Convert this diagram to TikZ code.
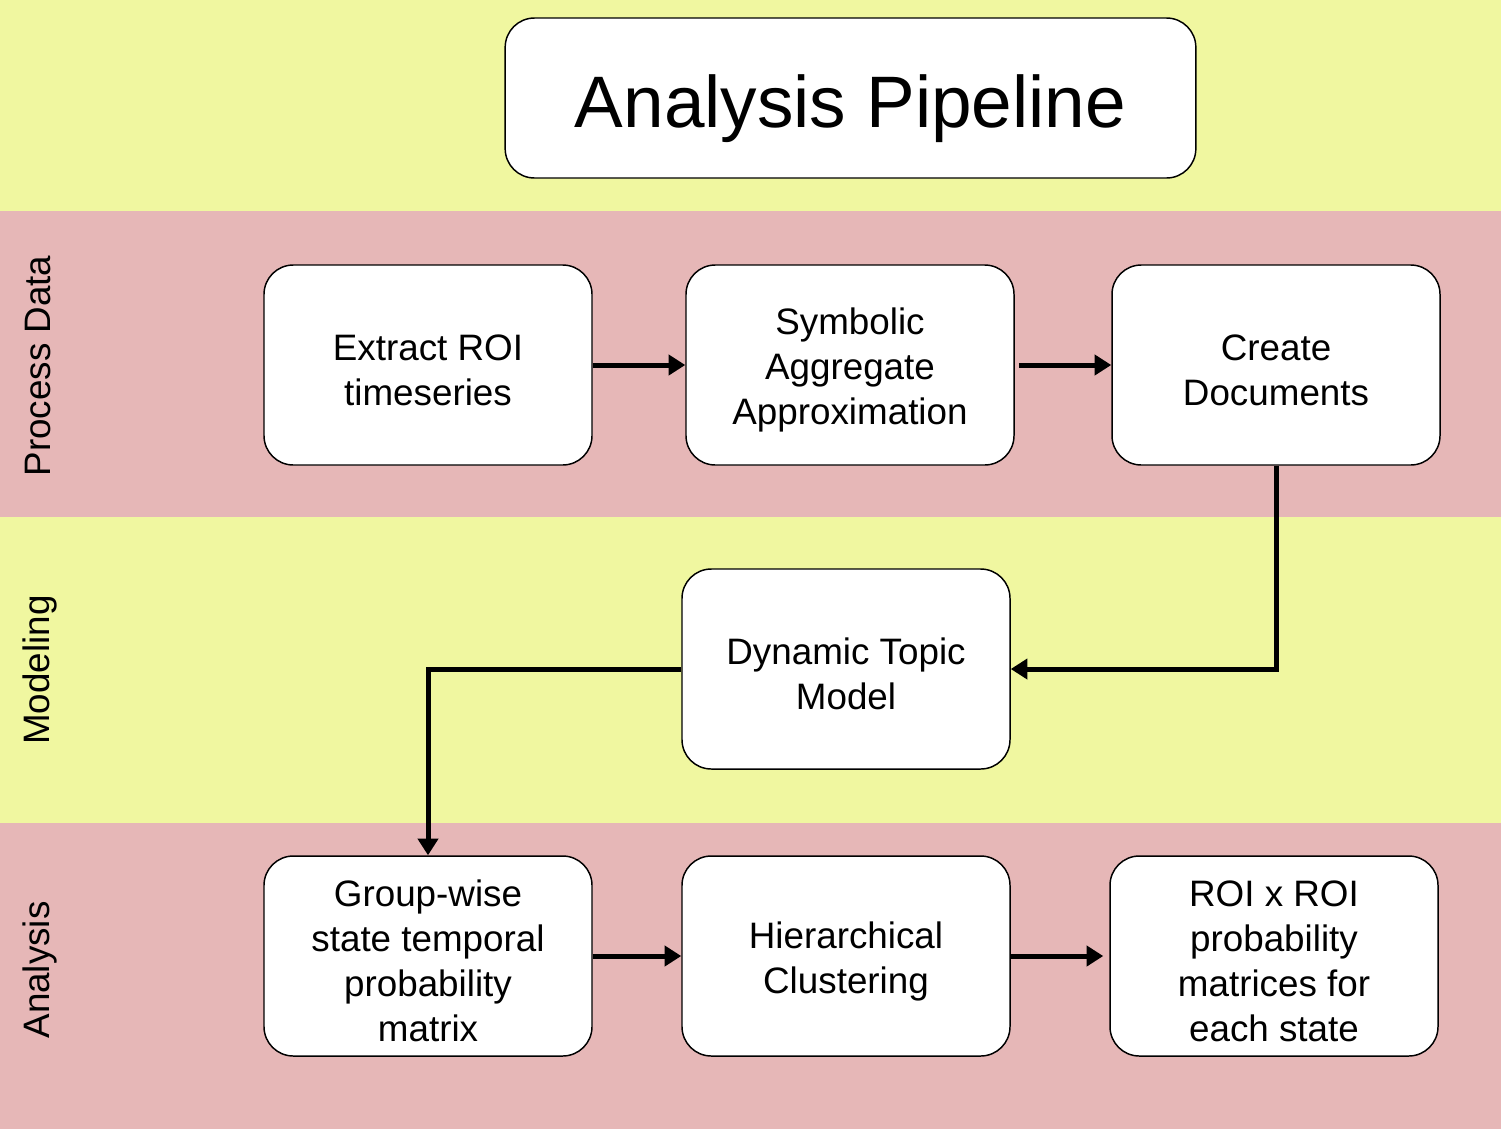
\documentclass[tikz,border=0pt]{standalone}
\usepackage{fontspec}
\setmainfont{Liberation Sans}
\usetikzlibrary{arrows.meta}
\definecolor{laneY}{HTML}{F0F7A0}
\definecolor{laneP}{HTML}{E6B7B7}
\newcommand\boxup{\rule{0pt}{27.5pt}}
\begin{document}
\begin{tikzpicture}[x=0.75pt,y=-0.75pt,
  box/.style={draw=black,line width=1.1pt,fill=white,rounded corners=22pt,
    minimum width=246pt,minimum height=150pt,align=center,inner sep=0pt,
    font=\fontsize{27.6pt}{33.75pt}\selectfont},
  titlebox/.style={box,minimum width=518pt,minimum height=120pt,
    font=\fontsize{54.7pt}{60pt}\selectfont,
    execute at begin node={\rule{0pt}{56pt}}},
  lanelabel/.style={rotate=90,font=\fontsize{27.6pt}{33.75pt}\selectfont},
  flow/.style={line width=3.75pt,-{Triangle[length=12.5pt,width=15pt]}}]
\useasboundingbox (0,0) rectangle (1501,1129);
\fill[laneY] (0,0) rectangle (1501,211);
\fill[laneP] (0,211) rectangle (1501,517);
\fill[laneY] (0,517) rectangle (1501,823);
\fill[laneP] (0,823) rectangle (1501,1129);
\node[titlebox] (t) at (850.5,98) {Analysis Pipeline};
\node[lanelabel] (l1) at (38,366) {Process Data};
\node[lanelabel] (l2) at (40,670) {Modeling};
\node[lanelabel] (l3) at (40,970) {Analysis};
\node[box] (a) at (428,365) {\boxup Extract ROI\\timeseries};
\node[box] (b) at (850,365) {\boxup Symbolic\\Aggregate\\Approximation};
\node[box] (c) at (1276,365) {\boxup Create\\Documents};
\node[box] (d) at (846,669) {\boxup Dynamic Topic\\Model};
\node[box] (g) at (428,956) {\boxup Group-wise\\state temporal\\probability\\matrix};
\node[box] (h) at (846,956) {\boxup Hierarchical\\Clustering};
\node[box] (r) at (1274,956) {\boxup ROI x ROI\\probability\\matrices for\\each state};
\draw[flow] (a) -- (b);
\draw[flow,shorten <=3pt] (b) -- (c);
\draw[flow] (c.south) |- (d.east);
\draw[flow] (d.west) -| (g.north);
\draw[flow] (g) -- (h);
\draw[flow,shorten >=4.5pt] (h) -- (r);
\end{tikzpicture}
\end{document}
